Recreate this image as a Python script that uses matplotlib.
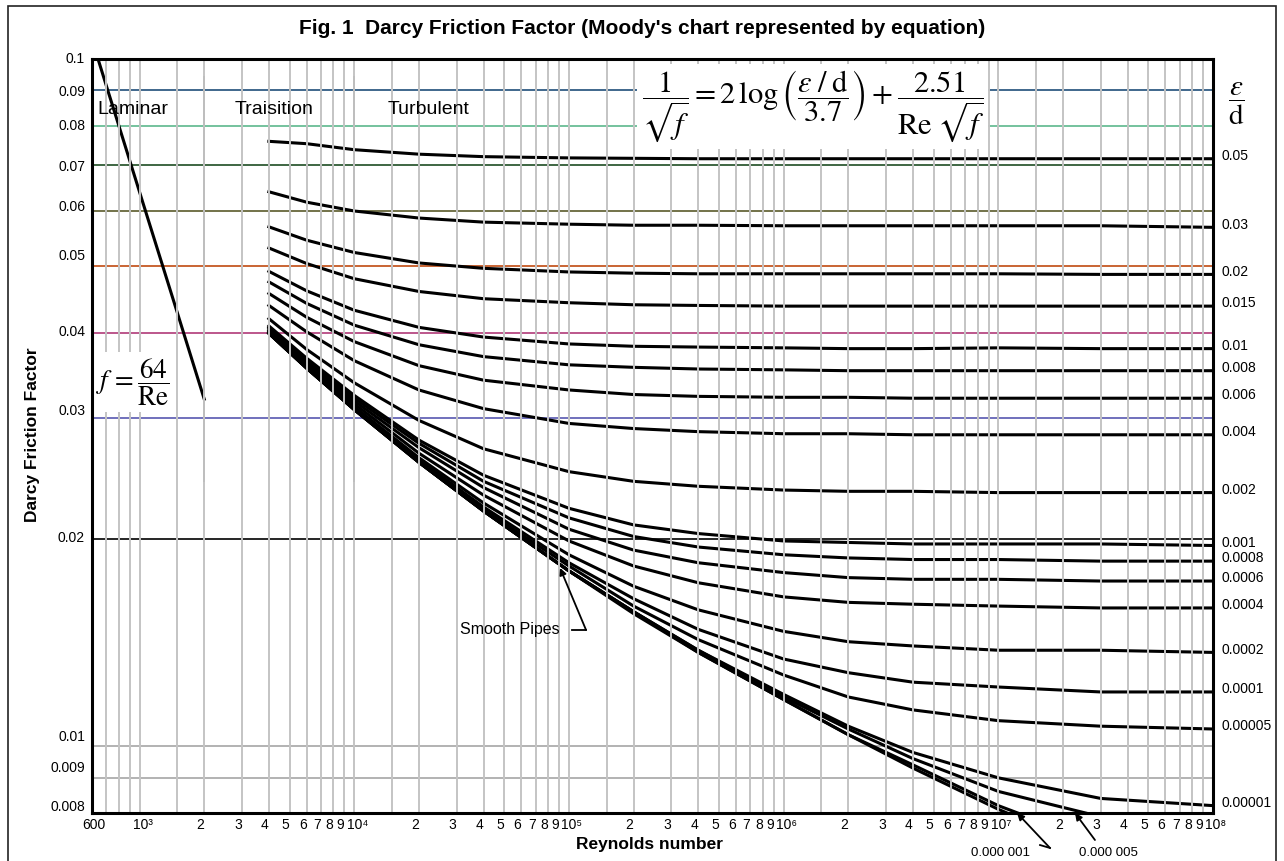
import matplotlib
matplotlib.use("Agg")
import matplotlib.pyplot as plt
from matplotlib.patches import Rectangle
from matplotlib.ticker import NullLocator
from matplotlib.transforms import ScaledTranslation

plt.rcParams['font.family'] = ['Liberation Sans', 'DejaVu Sans']

# ---- data ----
# Reynolds numbers at which the turbulent curves were sampled
re_turb = [4e3, 6e3, 1e4, 2e4, 4e4, 1e5, 2e5, 4e5, 1e6, 2e6, 4e6, 1e7, 3e7, 1e8]

# Darcy friction factor for each relative roughness eps/d
f_0_05 = [0.0759, 0.0753, 0.0738, 0.0727, 0.0721, 0.0718, 0.0717, 0.0716, 0.0716, 0.0716, 0.0716, 0.0716, 0.0716, 0.0716]
f_0_03 = [0.0641, 0.0619, 0.0601, 0.0587, 0.0579, 0.0575, 0.0573, 0.0573, 0.0572, 0.0572, 0.0572, 0.0572, 0.0572, 0.0569]
f_0_02 = [0.0570, 0.0545, 0.0523, 0.0505, 0.0496, 0.0490, 0.0488, 0.0487, 0.0487, 0.0487, 0.0487, 0.0487, 0.0486, 0.0486]
f_0_015 = [0.0531, 0.0504, 0.0479, 0.0459, 0.0448, 0.0442, 0.0439, 0.0438, 0.0437, 0.0437, 0.0437, 0.0437, 0.0437, 0.0437]
f_0_01 = [0.0491, 0.0460, 0.0431, 0.0407, 0.0394, 0.0385, 0.0382, 0.0381, 0.0380, 0.0379, 0.0379, 0.0380, 0.0379, 0.0379]
f_0_008 = [0.0474, 0.0441, 0.0410, 0.0384, 0.0369, 0.0359, 0.0356, 0.0354, 0.0353, 0.0352, 0.0352, 0.0352, 0.0352, 0.0352]
f_0_006 = [0.0456, 0.0421, 0.0388, 0.0358, 0.0341, 0.0330, 0.0325, 0.0323, 0.0322, 0.0322, 0.0321, 0.0321, 0.0321, 0.0321]
f_0_004 = [0.0438, 0.0401, 0.0364, 0.0330, 0.0310, 0.0295, 0.0290, 0.0287, 0.0285, 0.0285, 0.0284, 0.0284, 0.0284, 0.0284]
f_0_002 = [0.0419, 0.0378, 0.0338, 0.0298, 0.0271, 0.0251, 0.0243, 0.0239, 0.0236, 0.0235, 0.0235, 0.0234, 0.0234, 0.0234]
f_0_001 = [0.0409, 0.0367, 0.0324, 0.0279, 0.0248, 0.0222, 0.0210, 0.0204, 0.0199, 0.0198, 0.0197, 0.0197, 0.0197, 0.0196]
f_0_0008 = [0.0407, 0.0365, 0.0321, 0.0276, 0.0243, 0.0215, 0.0202, 0.0195, 0.0190, 0.0188, 0.0187, 0.0187, 0.0186, 0.0186]
f_0_0006 = [0.0405, 0.0362, 0.0318, 0.0272, 0.0238, 0.0207, 0.0193, 0.0185, 0.0179, 0.0176, 0.0175, 0.0175, 0.0174, 0.0174]
f_0_0004 = [0.0403, 0.0360, 0.0315, 0.0267, 0.0232, 0.0199, 0.0183, 0.0173, 0.0165, 0.0162, 0.0161, 0.0160, 0.0159, 0.0159]
f_0_0002 = [0.0401, 0.0358, 0.0312, 0.0263, 0.0226, 0.0190, 0.0171, 0.0158, 0.0147, 0.0142, 0.0140, 0.0138, 0.0138, 0.0137]
f_0_0001 = [0.0400, 0.0356, 0.0310, 0.0261, 0.0223, 0.0185, 0.0164, 0.0148, 0.0134, 0.0128, 0.0124, 0.0122, 0.0120, 0.0120]
f_0_00005 = [0.0400, 0.0356, 0.0310, 0.0260, 0.0221, 0.0183, 0.0160, 0.0143, 0.0127, 0.0118, 0.0113, 0.0109, 0.0107, 0.0106]
f_0_00001 = [0.0399, 0.0355, 0.0309, 0.0259, 0.0220, 0.0180, 0.0157, 0.0138, 0.0119, 0.0107, 0.0098, 0.0090, 0.0084, 0.0082]
f_0_000005 = [0.0399, 0.0355, 0.0309, 0.0259, 0.0220, 0.0180, 0.0157, 0.0138, 0.0118, 0.0106, 0.0096, 0.0086, 0.0079, 0.0075]
f_0_000001 = [0.0399, 0.0355, 0.0309, 0.0259, 0.0220, 0.0180, 0.0157, 0.0137, 0.0117, 0.0104, 0.0094, 0.0082, 0.0072, 0.0064]
f_smooth = [0.0399, 0.0355, 0.0309, 0.0259, 0.0220, 0.0180, 0.0156, 0.0137, 0.0117, 0.0104, 0.0093, 0.0081, 0.0070, 0.0059]

rough_curves = [f_0_05, f_0_03, f_0_02, f_0_015, f_0_01, f_0_008, f_0_006, f_0_004,
                f_0_002, f_0_001, f_0_0008, f_0_0006, f_0_0004, f_0_0002, f_0_0001,
                f_0_00005, f_0_00001, f_0_000005, f_0_000001, f_smooth]
rough_labels = ['0.05', '0.03', '0.02', '0.015', '0.01', '0.008', '0.006', '0.004',
                '0.002', '0.001', '0.0008', '0.0006', '0.0004', '0.0002', '0.0001',
                '0.00005', '0.00001', None, None, None]

# laminar flow f = 64/Re
re_lam = [600, 700, 800, 1000, 1500, 2000]
f_lam = [0.1067, 0.0914, 0.0800, 0.0640, 0.0427, 0.0320]

# regime boundaries (Re) and their vertical extent
re_bounds = [2000, 10000]
bound_f = [0.0243, 0.0941]

# horizontal reference lines
h_levels = [0.09, 0.08, 0.07, 0.06, 0.05, 0.04, 0.03, 0.02, 0.01, 0.009]
h_colors = ['#1f4e79', '#5cb88c', '#1e4d22', '#5a5a2a', '#c04a10', '#b03a78',
            '#5858b0', '#000000', '#a6a6a6', '#a6a6a6']

y_ticks = [0.1, 0.09, 0.08, 0.07, 0.06, 0.05, 0.04, 0.03, 0.02, 0.01, 0.009, 0.008]
y_tick_labels = ['0.1', '0.09', '0.08', '0.07', '0.06', '0.05', '0.04', '0.03', '0.02',
                 '0.01', '0.009', '0.008']
y_nudge_px = [1, 0, 1, 0, 6, 11, 2, 9, 3, 11, 11, 7]

decades = [1e3, 1e4, 1e5, 1e6, 1e7]
decade_labels = ['10\u00b3', '10\u2074', '10\u2075', '10\u2076', '10\u2077', '10\u2078']
mults = [2, 3, 4, 5, 6, 7, 8, 9]
grid_mults = [1, 1.5, 2, 3, 4, 5, 6, 7, 8, 9]
grid_first = [700, 800, 900]

# ---- figure ----
fig = plt.figure(figsize=(12.84, 8.61), dpi=100)
ax = fig.add_axes([92 / 1284, 1 - 813 / 861, 1121 / 1284, 754 / 861])
ax.set_xscale('log')
ax.set_yscale('log')
ax.set_xlim(600, 1e8)
ax.set_ylim(0.008, 0.1)

for lvl, col in zip(h_levels, h_colors):
    ax.axhline(lvl, color=col, lw=1.2, zorder=1)

for f_vals in rough_curves:
    ax.plot(re_turb, f_vals, color='black', lw=2.2, zorder=2, solid_joinstyle='round')
ax.plot(re_lam, f_lam, color='black', lw=2.2, zorder=2)
for rb in re_bounds:
    ax.plot([rb, rb], bound_f, color='black', lw=1.4, zorder=2)

grid_x = list(grid_first)
for d in decades:
    grid_x += [d * m for m in grid_mults]
for gx in grid_x:
    ax.axvline(gx, color='#c4c4c4', lw=1.4, zorder=3)

# ticks
x_ticks = [600]
x_labels = ['600']
x_nudge = [2]
for i, d in enumerate(decades):
    x_ticks.append(d)
    x_labels.append(decade_labels[i])
    x_nudge.append(3)
    for m in mults:
        x_ticks.append(d * m)
        x_labels.append(str(m))
        x_nudge.append(-4)
x_ticks.append(1e8)
x_labels.append(decade_labels[-1])
x_nudge.append(3)

ax.set_xticks(x_ticks)
ax.set_xticklabels(x_labels)
ax.set_yticks(y_ticks)
ax.set_yticklabels(y_tick_labels)
ax.xaxis.set_minor_locator(NullLocator())
ax.yaxis.set_minor_locator(NullLocator())
ax.tick_params(axis='both', length=0, labelsize=10)
ax.tick_params(axis='y', pad=5)
ax.tick_params(axis='x', pad=3.5)
for lab, dy in zip(ax.get_yticklabels(), y_nudge_px):
    lab.set_transform(lab.get_transform() + ScaledTranslation(0, dy / 100, fig.dpi_scale_trans))
for lab, dx in zip(ax.get_xticklabels(), x_nudge):
    lab.set_transform(lab.get_transform() + ScaledTranslation(dx / 100, 0, fig.dpi_scale_trans))

for sp in ax.spines.values():
    sp.set_linewidth(2.2)
    sp.set_zorder(6)

# eps/d labels at the right end of each curve
for f_vals, lab in zip(rough_curves, rough_labels):
    if lab is None:
        continue
    ax.annotate(lab, xy=(1.0, f_vals[-1]), xycoords=('axes fraction', 'data'),
                xytext=(6, 2), textcoords='offset points', fontsize=10,
                ha='left', va='center', annotation_clip=False)

# regime labels
for txt, xf in [('Laminar', 0.0045), ('Traisition', 0.1276), ('Turbulent', 0.264)]:
    ax.text(xf, 0.9326, txt, transform=ax.transAxes, fontsize=14, ha='left', va='center', zorder=4)

# equations
ax.text(0.643, 0.9367,
        r'$\dfrac{1}{\sqrt{f}} = 2\,\log\left(\dfrac{\varepsilon\;/\;\mathrm{d}}{3.7}\right) + \dfrac{2.51}{\mathrm{Re}\;\sqrt{f}}$',
        transform=ax.transAxes, fontsize=22, ha='center', va='center', math_fontfamily='stix',
        zorder=5, bbox=dict(boxstyle='square,pad=0.15', fc='white', ec='none'))
ax.text(0.0366, 0.5718, r'$f\, = \dfrac{64}{\mathrm{Re}}$', transform=ax.transAxes,
        fontsize=19.5, ha='center', va='center', math_fontfamily='stix', zorder=5,
        bbox=dict(boxstyle='square,pad=0.15', fc='white', ec='none'))
ax.text(1.0205, 0.9407, r'$\dfrac{\varepsilon}{\mathrm{d}}$', transform=ax.transAxes,
        fontsize=21, ha='center', va='center', math_fontfamily='stix')

# smooth pipes annotation
ax.text(0.4175, 0.2428, 'Smooth Pipes', transform=ax.transAxes, fontsize=11.5,
        ha='right', va='center', zorder=5)
ax.plot([0.4282, 0.4407], [0.2428, 0.2428], transform=ax.transAxes, color='black', lw=1.3, zorder=5)
ax.annotate('', xy=(0.4175, 0.3250), xycoords='axes fraction', xytext=(0.4407, 0.2428),
            arrowprops=dict(arrowstyle='-|>', color='black', lw=1.3, mutation_scale=10,
                            shrinkA=0, shrinkB=0), zorder=5)

# bottom roughness annotations
ax.text(0.810, -0.0531, '0.000 001', transform=ax.transAxes, fontsize=9.5, ha='center', va='center')
ax.plot([0.8457, 0.8546], [-0.0425, -0.0464], transform=ax.transAxes, color='black', lw=1.3, clip_on=False)
ax.annotate('', xy=(0.8252, 0.0), xycoords='axes fraction', xytext=(0.8546, -0.0464),
            arrowprops=dict(arrowstyle='-|>', color='black', lw=1.3, mutation_scale=10,
                            shrinkA=0, shrinkB=0), annotation_clip=False)
ax.text(0.9063, -0.0531, '0.000 005', transform=ax.transAxes, fontsize=9.5, ha='center', va='center')
ax.annotate('', xy=(0.8769, 0.0), xycoords='axes fraction', xytext=(0.8947, -0.0358),
            arrowprops=dict(arrowstyle='-|>', color='black', lw=1.3, mutation_scale=10,
                            shrinkA=0, shrinkB=0), annotation_clip=False)

# titles
fig.text(642 / 1284, 1 - 28 / 861,
         "Fig. 1  Darcy Friction Factor (Moody's chart represented by equation)",
         ha='center', va='center', fontsize=15, fontweight='bold')
fig.text(33 / 1284, 1 - 435 / 861, 'Darcy Friction Factor', rotation=90,
         ha='center', va='center', fontsize=12.5, fontweight='bold')
fig.text(650 / 1284, 1 - 845 / 861, 'Reynolds number', ha='center', va='center',
         fontsize=12.5, fontweight='bold')

# outer frame
fig.add_artist(Rectangle((8 / 1284, -0.02), 1268 / 1284, 1 - 6 / 861 + 0.02,
                         transform=fig.transFigure, fill=False, ec='#222222', lw=1.2))

fig.savefig('out.png', dpi=100)
